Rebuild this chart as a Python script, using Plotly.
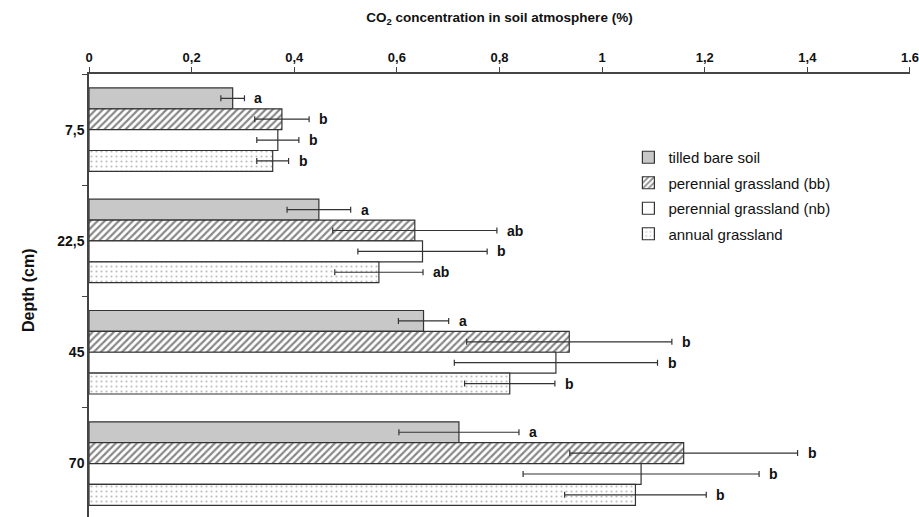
import plotly.graph_objects as go

depths = ["7,5", "22,5", "45", "70"]
series_names = ["tilled bare soil", "perennial grassland (bb)",
                "perennial grassland (nb)", "annual grassland"]
tilled = [0.280, 0.448, 0.652, 0.721]
tilled_err = [0.023, 0.062, 0.049, 0.117]
bb = [0.376, 0.635, 0.936, 1.159]
bb_err = [0.053, 0.160, 0.200, 0.222]
nb = [0.368, 0.650, 0.910, 1.076]
nb_err = [0.041, 0.126, 0.198, 0.230]
annual = [0.358, 0.565, 0.820, 1.065]
annual_err = [0.031, 0.086, 0.088, 0.138]
tilled_letters = ["a", "a", "a", "a"]
bb_letters = ["b", "ab", "b", "b"]
nb_letters = ["b", "b", "b", "b"]
annual_letters = ["b", "ab", "b", "b"]
xtick_vals = [0, 0.2, 0.4, 0.6, 0.8, 1.0, 1.2, 1.4, 1.6]
xtick_text = ["0", "0,2", "0,4", "0,6", "0,8", "1", "1,2", "1,4", "1.6"]

values = [tilled, bb, nb, annual]
errors = [tilled_err, bb_err, nb_err, annual_err]
letters = [tilled_letters, bb_letters, nb_letters, annual_letters]

LINE = "#333333"
ARIAL = "Liberation Sans, Arial"
INK = "#111111"

styles = [
    dict(color="#c8c8c8"),
    dict(color="white", pattern=dict(shape="/", fgcolor="#111111", bgcolor="white",
                                     size=5, solidity=0.45)),
    dict(color="white"),
    dict(color="white", pattern=dict(shape=".", fgcolor="#7a7a7a", bgcolor="white",
                                     size=5, solidity=0.14)),
]

fig = go.Figure()
for k, (name, vals, errs, st) in enumerate(zip(series_names, values, errors, styles)):
    fig.add_trace(go.Bar(
        name=name, x=vals, y=depths, orientation="h", legendgroup="g%d" % k,
        marker=dict(line=dict(color=LINE, width=1.2), **st),
        error_x=dict(type="data", array=errs, visible=True, color=LINE,
                     thickness=1.2, width=3),
    ))

bargap = 0.25
n = len(series_names)
bw = (1 - bargap) / n
annotations = []
for k in range(n):
    off = -(1 - bargap) / 2 + bw * (k + 0.5)
    for i in range(len(depths)):
        annotations.append(dict(
            x=values[k][i] + errors[k][i], y=i + off, xref="x", yref="y",
            text="<b>%s</b>" % letters[k][i], showarrow=False,
            xanchor="left", yanchor="middle", xshift=8,
            font=dict(family=ARIAL, size=14, color=INK)))

W, H = 919, 517
L, R, T = 89, 9, 74
plot_h = H - T
annotations.append(dict(
    x=(28 - L) / (W - L - R), y=1 - (290 - T) / plot_h, xref="paper", yref="paper",
    textangle=-90, text="<b>Depth (cm)</b>", showarrow=False,
    xanchor="center", yanchor="middle",
    font=dict(family=ARIAL, size=16, color=INK)))

fig.update_layout(
    width=W, height=H,
    margin=dict(l=L, r=R, t=T, b=0, autoexpand=False),
    paper_bgcolor="white", plot_bgcolor="white",
    barmode="group", bargap=bargap, bargroupgap=0,
    title=dict(text="<b>CO<sub>2</sub> concentration in soil atmosphere (%)</b>",
               x=(L + W - R) / 2 / W, xanchor="center", y=1 - 17 / H, yanchor="middle",
               font=dict(family=ARIAL, size=13.5, color=INK)),
    legend=dict(x=0.657, y=1 - (141 - T) / plot_h, xanchor="left", yanchor="top",
                traceorder="grouped", tracegroupgap=3, bgcolor="rgba(0,0,0,0)",
                font=dict(family=ARIAL, size=15, color=INK),
                itemwidth=30),
    annotations=annotations,
    showlegend=True,
)
fig.update_xaxes(
    side="top", range=[0, 1.6001], tickvals=xtick_vals, ticktext=xtick_text,
    showgrid=False, zeroline=False, showline=True, linecolor="#444444", linewidth=1.5,
    ticks="outside", ticklen=5, tickcolor="#444444", tickwidth=1,
    automargin=False, ticklabeloverflow="allow",
    tickfont=dict(family=ARIAL, size=13, color=INK, weight="bold"),
)
fig.update_yaxes(
    type="category", range=[-0.5 + plot_h / 111.3, -0.5], tickson="boundaries",
    showgrid=False, zeroline=False, showline=True, linecolor="#444444", linewidth=1.5,
    ticks="outside", ticklen=5, tickcolor="#444444", automargin=False,
    tickfont=dict(family=ARIAL, size=14, color=INK, weight="bold"),
)

fig.write_html(
    "out.html",
    config={"displayModeBar": False},
    post_script="document.body.style.margin='0';document.body.style.overflow='hidden';",
)
